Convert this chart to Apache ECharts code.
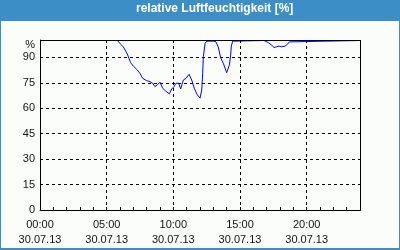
<!DOCTYPE html>
<html>
<head>
<meta charset="utf-8">
<script src="https://cdn.jsdelivr.net/npm/echarts@6/dist/echarts.min.js"></script>
<style>html,body{margin:0;padding:0;background:#fbfdfb;}#c{width:400px;height:250px;}</style>
</head>
<body>
<div id="c"></div>
<script>
var titleText = 'relative Luftfeuchtigkeit [%]';
var dateLabel = '30.07.13';
var xTickHours = [0, 5, 10, 15, 20];
var yTicks = [0, 15, 30, 45, 60, 75, 90];
var hours = [0, 5.8, 5.87, 6.25, 6.55, 6.8, 7.0, 7.25, 7.5, 7.7, 8.0, 8.25, 8.45, 8.62, 8.8, 9.0, 9.2, 9.43, 9.7, 9.88, 10.05, 10.2, 10.4, 10.55, 10.75, 10.95, 11.18, 11.38, 11.57, 11.8, 12.0, 12.13, 12.2, 12.25, 12.38, 12.5, 13.0, 13.2, 13.37, 13.55, 13.75, 14.0, 14.05, 14.2, 14.3, 14.35, 14.45, 14.6, 16.8, 16.95, 17.12, 17.25, 17.38, 17.55, 17.75, 17.93, 18.13, 18.38, 18.55, 18.7, 18.8, 24];
var humidity = [100, 100, 99.8, 96.2, 92.0, 86.9, 84.9, 83.0, 80.6, 77.7, 76.3, 75.7, 74.8, 72.8, 73.8, 75.4, 71.8, 70.2, 68.5, 71.4, 72.8, 74.8, 74.8, 71.4, 76.7, 77.7, 80.0, 76.7, 71.8, 67.9, 66.0, 70.8, 80.6, 90.4, 98.2, 99.6, 99.6, 99.2, 96.1, 89.9, 86.5, 81.0, 80.6, 85.5, 91.4, 96.7, 99.6, 100, 100, 99.8, 98.8, 99.2, 97.2, 95.9, 96.3, 96.7, 96.3, 96.7, 97.7, 99.2, 100, 100];

var data = hours.map(function (h, i) { return [h, humidity[i]]; });
function pad(n) { return (n < 10 ? '0' : '') + n; }

var chart = echarts.init(document.getElementById('c'));
var font = 'Liberation Sans';
chart.setOption({
  animation: false,
  backgroundColor: '#fbfdfb',
  graphic: [
    { type: 'rect', z: -10, silent: true, shape: { x: 0, y: 0, width: 400, height: 21 }, style: { fill: '#3b8fc6' } },
    { type: 'rect', z: -10, silent: true, shape: { x: 0, y: 0, width: 1, height: 250 }, style: { fill: '#3b8fc6' } },
    { type: 'rect', z: -10, silent: true, shape: { x: 399, y: 0, width: 1, height: 250 }, style: { fill: '#3b8fc6' } },
    { type: 'rect', z: -10, silent: true, shape: { x: 0, y: 248, width: 400, height: 2 }, style: { fill: '#3b8fc6' } },
    { type: 'rect', z: 100, silent: true, shape: { x: 40.5, y: 40.5, width: 320, height: 170 }, style: { fill: null, stroke: '#000', lineWidth: 1 } },
    { type: 'text', z: 10, left: 217 - 81, top: 3, style: { text: titleText, fill: '#ffffff', font: 'bold 12px "Liberation Sans"' } }
  ],
  grid: { left: 40, top: 40, width: 320, height: 170, outerBoundsMode: 'none', containLabel: false },
  xAxis: [
    {
      type: 'value', min: 0, max: 24, interval: 5,
      axisLine: { show: true, lineStyle: { color: '#000', width: 1 } },
      axisTick: { show: false },
      splitLine: { show: true, lineStyle: { color: '#000', type: [3, 3], width: 1 } },
      axisLabel: {
        margin: 7, color: '#111', fontFamily: font, fontSize: 11, lineHeight: 15,
        formatter: function (v) { return xTickHours.indexOf(v) >= 0 ? pad(v) + ':00\n' + dateLabel : ''; }
      }
    },
    {
      type: 'value', min: 0, max: 24, interval: 1, position: 'bottom', z: 5,
      axisLine: { show: false },
      axisTick: { show: true, inside: true, length: 3, lineStyle: { color: '#000' } },
      axisLabel: { show: false }, splitLine: { show: false }
    }
  ],
  yAxis: [
    {
      type: 'value', min: 0, max: 100.3, interval: 15,
      axisLine: { show: true, lineStyle: { color: '#000', width: 1 } },
      axisTick: { show: false },
      splitLine: { show: true, lineStyle: { color: '#000', type: [3, 3], width: 1 } },
      axisLabel: {
        margin: 5, color: '#111', fontFamily: font, fontSize: 11,
        formatter: function (v) { return yTicks.indexOf(v) >= 0 ? String(v) : '{p|%}'; },
        rich: { p: { fontFamily: font, fontSize: 11, color: '#111', padding: [10, 0, 0, 0] } }
      }
    }
  ],
  series: [{
    type: 'line', data: data, showSymbol: false, xAxisIndex: 0, yAxisIndex: 0,
    lineStyle: { color: '#0000ff', width: 1 }, clip: true
  }]
});
</script>
</body>
</html>
